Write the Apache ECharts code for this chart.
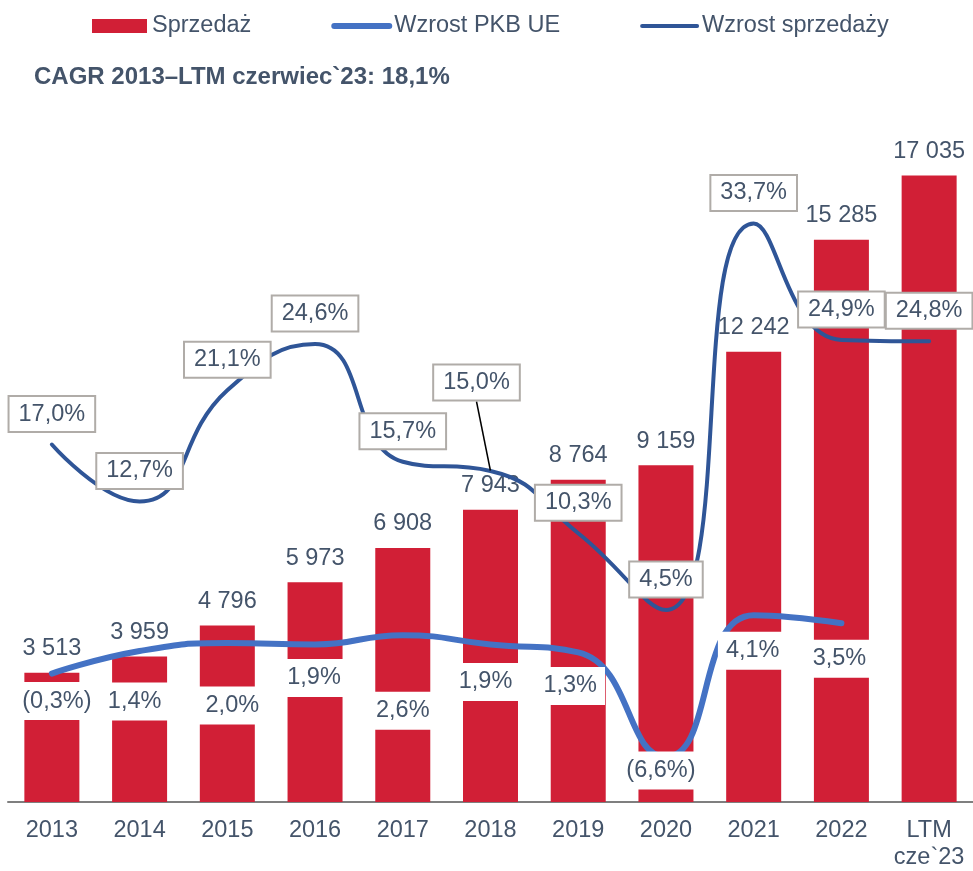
<!DOCTYPE html>
<html>
<head>
<meta charset="utf-8">
<script src="https://cdn.jsdelivr.net/npm/echarts@6/dist/echarts.min.js"></script>
<style>
    html, body { margin: 0; padding: 0; background: #fff; }
    #container { width: 973px; height: 871px; }
</style>
</head>
<body>
<div id="container"></div>
<script>
var years = ['2013', '2014', '2015', '2016', '2017', '2018', '2019', '2020', '2021', '2022', 'LTM\ncze`23'];
var sales = [3513, 3959, 4796, 5973, 6908, 7943, 8764, 9159, 12242, 15285, 17035];
var gdpGrowth = [-0.3, 1.4, 2.0, 1.9, 2.6, 1.9, 1.3, -6.6, 4.1, 3.5, null];
var salesGrowth = [17.0, 12.7, 21.1, 24.6, 15.7, 15.0, 10.3, 4.5, 33.7, 24.9, 24.8];

// label nudges [dx, dy] for the GDP labels
var gdpLabelShift = [[5, -8], [-5, 15], [5, 27], [-1, -2], [0, 40], [-5, 2], [-8, -2], [-5, -22], [-1, 0], [-2, 0]];

var textColor = '#44546a';
var font = 'Liberation Sans, Arial, sans-serif';
var fs = 23.5;

function pct(v) {
    var s = Math.abs(v).toFixed(1).replace('.', ',') + '%';
    return v < 0 ? '(' + s + ')' : s;
}
function thousands(v) {
    return String(v).replace(/\B(?=(\d{3})+(?!\d))/g, ' ');
}

var dom = document.getElementById('container');
var myChart = echarts.init(dom);

var salesGrowthData = salesGrowth.map(function (v, i) {
    // 2018 label is pulled up with a leader line
    return i === 5 ? { value: v, labelLine: { show: true } } : v;
});

var option = {
    animation: false,
    textStyle: { fontFamily: font },
    legend: {
        left: 87,
        top: 9,
        itemWidth: 55,
        itemHeight: 14,
        itemGap: 80,
        textStyle: { color: textColor, fontSize: fs, fontFamily: font },
        data: [
            { name: 'Sprzedaż', icon: 'rect' },
            { name: 'Wzrost PKB UE', lineStyle: { width: 6, cap: 'round' } },
            { name: 'Wzrost sprzedaży', lineStyle: { width: 4, cap: 'round' } }
        ]
    },
    title: {
        text: 'CAGR 2013–LTM czerwiec`23: 18,1%',
        left: 29,
        top: 60,
        textStyle: { color: textColor, fontSize: 24, fontWeight: 'bold', fontFamily: font }
    },
    grid: { left: 8, width: 968, top: 140, bottom: 65 },
    xAxis: {
        type: 'category',
        data: years,
        axisLine: { lineStyle: { color: '#7f7f7f', width: 2 } },
        axisTick: { show: false },
        axisLabel: { interval: 0, color: textColor, fontSize: fs, margin: 15, lineHeight: 27, fontFamily: font }
    },
    yAxis: [
        { type: 'value', min: 0, max: 18000, show: false, splitLine: { show: false } },
        { type: 'value', min: -10, max: 40, interval: 10, show: false, splitLine: { show: false } }
    ],
    series: [
        {
            name: 'Sprzedaż',
            type: 'bar',
            data: sales,
            barWidth: 55,
            itemStyle: { color: '#d11f36' },
            label: {
                show: true,
                position: 'top',
                distance: 12,
                color: textColor,
                fontSize: fs,
                fontFamily: font,
                formatter: function (p) { return thousands(p.value); }
            }
        },
        {
            name: 'Wzrost PKB UE',
            type: 'line',
            yAxisIndex: 1,
            data: gdpGrowth,
            smooth: 0.5,
            symbol: 'circle',
            symbolSize: 1,
            itemStyle: { color: 'rgba(0,0,0,0)' },
            lineStyle: { color: '#4472c4', width: 6, cap: 'round' },
            label: {
                show: true,
                position: 'bottom',
                distance: 16,
                color: textColor,
                fontSize: fs,
                fontFamily: font,
                backgroundColor: '#fff',
                padding: [7, 8],
                formatter: function (p) { return pct(p.value); }
            },
            labelLayout: function (p) {
                var s = gdpLabelShift[p.dataIndex] || [0, 0];
                return { dx: s[0], dy: s[1] };
            }
        },
        {
            name: 'Wzrost sprzedaży',
            type: 'line',
            yAxisIndex: 1,
            data: salesGrowthData,
            smooth: 0.5,
            symbol: 'circle',
            symbolSize: 1,
            itemStyle: { color: 'rgba(0,0,0,0)' },
            lineStyle: { color: '#2f5597', width: 4, cap: 'round' },
            label: {
                show: true,
                position: 'top',
                distance: 13,
                color: textColor,
                fontSize: fs,
                fontFamily: font,
                backgroundColor: '#fff',
                borderColor: '#b0aca8',
                borderWidth: 2,
                padding: [5, 9],
                formatter: function (p) { return pct(p.value); }
            },
            labelLine: { show: false, lineStyle: { color: '#000', width: 1.5 } },
            labelLayout: function (p) {
                if (p.dataIndex === 5) {
                    return { dx: -14, dy: -58 };
                }
                return {};
            }
        }
    ]
};

myChart.setOption(option);
</script>
</body>
</html>
